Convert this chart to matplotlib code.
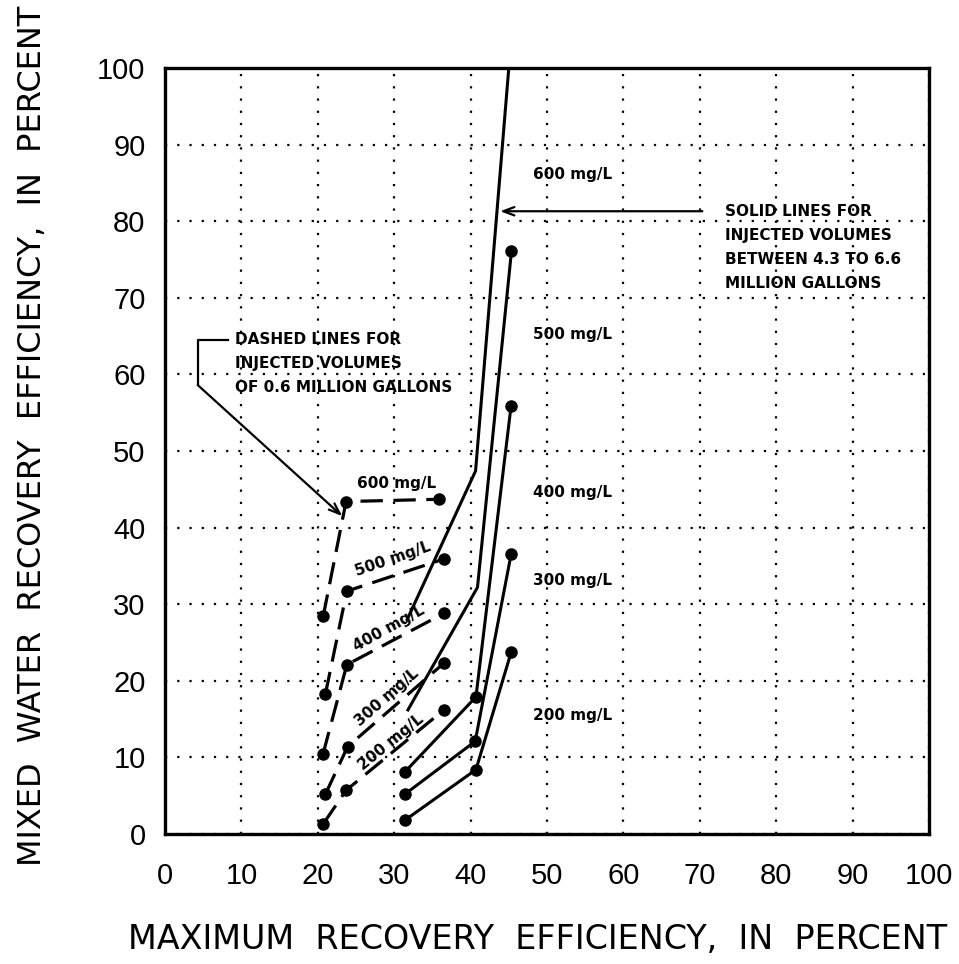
import numpy as np
import matplotlib.pyplot as plt

conc = ["200", "300", "400", "500", "600"]

# dashed lines: 0.6 million gallons injected (three points per concentration)
dash_x = [[20.7, 23.7, 36.5],
          [21.0, 23.9, 36.5],
          [20.7, 23.8, 36.5],
          [21.0, 23.8, 36.5],
          [20.7, 23.7, 35.9]]
dash_y = [[1.3, 5.7, 16.2],
          [5.2, 11.4, 22.3],
          [10.5, 22.1, 28.8],
          [18.3, 31.7, 35.9],
          [28.4, 43.4, 43.7]]

# solid lines: 4.3 to 6.6 million gallons injected
solid_x = [[31.4, 40.7, 45.3],
           [31.4, 40.6, 45.3],
           [31.4, 40.7, 45.3],
           [31.8, 40.9, 45.35],
           [31.7, 40.65, 45.0]]
solid_y = [[1.8, 8.4, 23.7],
           [5.2, 12.1, 36.5],
           [8.1, 17.9, 55.9],
           [16.2, 32.2, 76.1],
           [28.0, 47.4, 100.0]]
solid_marks = [[0, 1, 2], [0, 1, 2], [0, 1, 2], [2], []]

# label positions for the concentration text
dash_lab_x = [29.6, 29.0, 29.3, 29.8, 30.3]
dash_lab_y = [12.0, 17.8, 26.9, 35.9, 45.8]
dash_lab_rot = [39, 41, 29, 19, 0]
solid_lab_y = [15.5, 33.1, 44.6, 65.2, 86.1]

solid_note = ["SOLID LINES FOR", "INJECTED VOLUMES", "BETWEEN 4.3 TO 6.6", "MILLION GALLONS"]
solid_note_y = [81.3, 78.1, 75.0, 71.9]
dash_note = ["DASHED LINES FOR", "INJECTED VOLUMES", "OF 0.6 MILLION GALLONS"]
dash_note_y = [64.5, 61.4, 58.3]

ticks = np.arange(0, 101, 10)

fig = plt.figure(figsize=(9.59, 9.64), dpi=100)
ax = fig.add_axes([165/959, 1-834/964, (929-165)/959, (834-68)/964])
ax.set_xlim(0, 100)
ax.set_ylim(0, 100)
ax.set_xticks(ticks)
ax.set_yticks(ticks)
ax.tick_params(length=0, labelsize=21, pad=14)
ax.tick_params(axis='x', pad=20)
for lab in ax.get_xticklabels() + ax.get_yticklabels():
    lab.set_family('Liberation Sans')
ax.grid(True, color='black', linestyle=(0, (1, 4.5)), linewidth=1.6)
for s in ax.spines.values():
    s.set_linewidth(2.4)

for i in range(len(conc)):
    ax.plot(dash_x[i], dash_y[i], color='black', lw=2.3,
            linestyle=(0, (7, 3.3)), marker='o', ms=8, zorder=3)
    ax.plot(solid_x[i], solid_y[i], color='black', lw=2.2,
            marker='o', ms=8, markevery=solid_marks[i], zorder=3)
    ax.text(dash_lab_x[i], dash_lab_y[i], conc[i] + " mg/L", fontsize=11,
            fontweight='bold', rotation=dash_lab_rot[i], rotation_mode='anchor',
            ha='center', va='center', zorder=4)
    ax.text(48.2, solid_lab_y[i], conc[i] + " mg/L", fontsize=11,
            fontweight='bold', ha='left', va='center', zorder=4)

# solid line note
for txt, yy in zip(solid_note, solid_note_y):
    ax.text(73.3, yy, txt, fontsize=11, fontweight='bold', ha='left', va='center')
ax.annotate("", xy=(43.5, 81.3), xytext=(70.7, 81.3),
            arrowprops=dict(arrowstyle='->,head_length=0.8,head_width=0.3',
                            color='black', lw=1.6))

# dashed line note
for txt, yy in zip(dash_note, dash_note_y):
    ax.text(9.2, yy, txt, fontsize=11, fontweight='bold', ha='left', va='center')
ax.plot([8.2, 4.3, 4.3], [64.5, 64.5, 58.6], color='black', lw=1.6)
ax.annotate("", xy=(23.2, 41.5), xytext=(4.3, 58.6),
            arrowprops=dict(arrowstyle='->,head_length=0.8,head_width=0.3',
                            color='black', lw=1.6, shrinkA=0, shrinkB=0))

fig.text(0.5605, 0.025, "MAXIMUM  RECOVERY  EFFICIENCY,  IN  PERCENT", fontsize=24,
         ha='center', va='center')
fig.text(0.034, 0.548, "MIXED  WATER  RECOVERY  EFFICIENCY,  IN  PERCENT", fontsize=23,
         ha='center', va='center', rotation=90)

fig.savefig("out.png", dpi=100)
